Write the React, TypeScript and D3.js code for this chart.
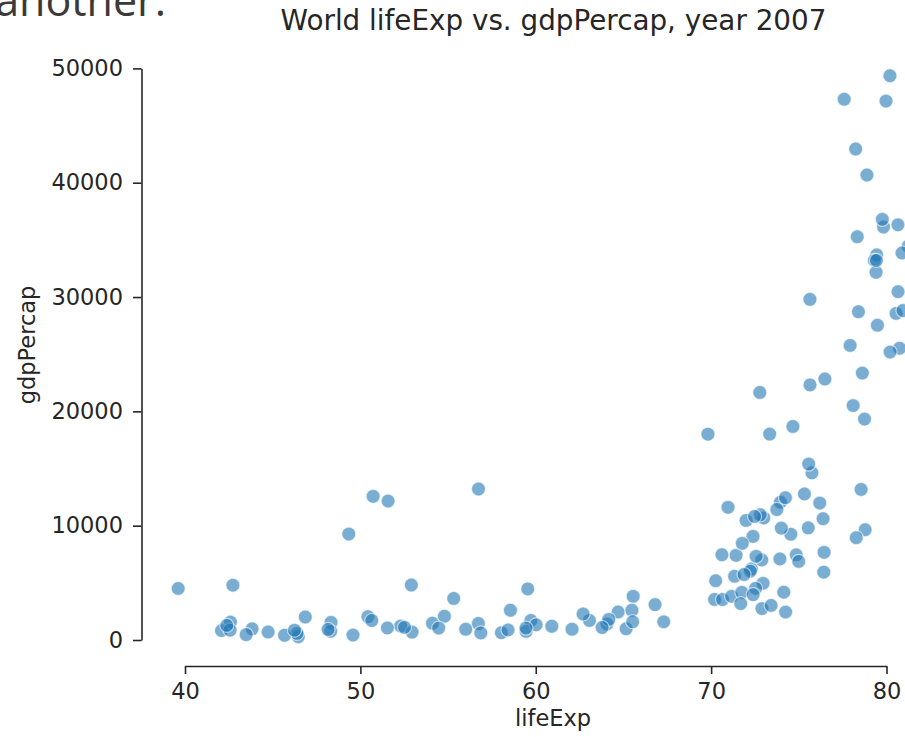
import React, { useRef, useEffect } from 'react';
import * as d3 from 'd3';

// Gapminder 2007, one entry per country (alphabetical, as in the source table)
const countries = [
  'Afghanistan', 'Albania', 'Algeria', 'Angola', 'Argentina', 'Australia', 'Austria', 'Bahrain',
  'Bangladesh', 'Belgium', 'Benin', 'Bolivia', 'Bosnia and Herzegovina', 'Botswana', 'Brazil',
  'Bulgaria', 'Burkina Faso', 'Burundi', 'Cambodia', 'Cameroon', 'Canada', 'Central African Republic',
  'Chad', 'Chile', 'China', 'Colombia', 'Comoros', 'Congo, Dem. Rep.', 'Congo, Rep.', 'Costa Rica',
  "Cote d'Ivoire", 'Croatia', 'Cuba', 'Czech Republic', 'Denmark', 'Djibouti', 'Dominican Republic',
  'Ecuador', 'Egypt', 'El Salvador', 'Equatorial Guinea', 'Eritrea', 'Ethiopia', 'Finland', 'France',
  'Gabon', 'Gambia', 'Germany', 'Ghana', 'Greece', 'Guatemala', 'Guinea', 'Guinea-Bissau', 'Haiti',
  'Honduras', 'Hong Kong, China', 'Hungary', 'Iceland', 'India', 'Indonesia', 'Iran', 'Iraq', 'Ireland',
  'Israel', 'Italy', 'Jamaica', 'Japan', 'Jordan', 'Kenya', 'Korea, Dem. Rep.', 'Korea, Rep.', 'Kuwait',
  'Lebanon', 'Lesotho', 'Liberia', 'Libya', 'Madagascar', 'Malawi', 'Malaysia', 'Mali', 'Mauritania',
  'Mauritius', 'Mexico', 'Mongolia', 'Montenegro', 'Morocco', 'Mozambique', 'Myanmar', 'Namibia',
  'Nepal', 'Netherlands', 'New Zealand', 'Nicaragua', 'Niger', 'Nigeria', 'Norway', 'Oman', 'Pakistan',
  'Panama', 'Paraguay', 'Peru', 'Philippines', 'Poland', 'Portugal', 'Puerto Rico', 'Reunion', 'Romania',
  'Rwanda', 'Sao Tome and Principe', 'Saudi Arabia', 'Senegal', 'Serbia', 'Sierra Leone', 'Singapore',
  'Slovak Republic', 'Slovenia', 'Somalia', 'South Africa', 'Spain', 'Sri Lanka', 'Sudan', 'Swaziland',
  'Sweden', 'Switzerland', 'Syria', 'Taiwan', 'Tanzania', 'Thailand', 'Togo', 'Trinidad and Tobago',
  'Tunisia', 'Turkey', 'Uganda', 'United Kingdom', 'United States', 'Uruguay', 'Venezuela', 'Vietnam',
  'West Bank and Gaza', 'Yemen, Rep.', 'Zambia', 'Zimbabwe'
];

const lifeExp = [
  43.828, 76.423, 72.301, 42.731, 75.32, 81.235, 79.829, 75.635, 64.062, 79.441, 56.728, 65.554,
  74.852, 50.728, 72.39, 73.005, 52.295, 49.58, 59.723, 50.43, 80.653, 44.741, 50.651, 78.553,
  72.961, 72.889, 65.152, 46.462, 55.322, 78.782, 48.328, 75.748, 78.273, 76.486, 78.332, 54.791,
  72.235, 74.994, 71.338, 71.878, 51.579, 58.04, 52.947, 79.313, 80.657, 56.735, 59.448, 79.406,
  60.022, 79.483, 70.259, 56.007, 46.388, 60.916, 70.198, 82.208, 73.338, 81.757, 64.698, 70.65,
  70.964, 59.545, 78.885, 80.745, 80.546, 72.567, 82.603, 72.535, 54.11, 67.297, 78.623, 77.588,
  71.993, 42.592, 45.678, 73.952, 59.443, 48.303, 74.241, 54.467, 64.164, 72.801, 76.195, 66.803,
  74.543, 71.164, 42.082, 62.069, 52.906, 63.785, 79.762, 80.204, 72.899, 56.867, 46.859, 80.196,
  75.64, 65.483, 75.537, 71.752, 71.421, 71.688, 75.563, 78.098, 78.746, 76.442, 72.476, 46.242,
  65.528, 72.777, 63.062, 74.002, 42.568, 79.972, 74.663, 77.926, 48.159, 49.339, 80.941, 72.396,
  58.556, 39.613, 80.884, 81.701, 74.143, 78.4, 52.517, 70.616, 58.42, 69.819, 73.923, 71.777,
  51.542, 79.425, 78.242, 76.384, 73.747, 74.249, 73.422, 62.698, 42.384, 43.487
];

const gdpPercap = [
  974.58, 5937.03, 6223.37, 4797.23, 12779.38, 34435.37, 36126.49, 29796.05, 1391.25, 33692.61,
  1441.28, 3822.14, 7446.3, 12569.85, 9065.8, 10680.79, 1217.03, 430.07, 1713.78, 2042.1, 36319.24,
  706.02, 1704.06, 13171.64, 4959.11, 7006.58, 986.15, 277.55, 3632.56, 9645.06, 1544.75, 14619.22,
  8948.1, 22833.31, 35278.42, 2082.48, 6025.37, 6873.26, 5581.18, 5728.35, 12154.09, 641.37, 690.81,
  33207.08, 30470.02, 13206.48, 752.75, 32170.37, 1327.61, 27538.41, 5186.05, 942.65, 579.23, 1201.64,
  3548.33, 39724.98, 18008.94, 36180.79, 2452.21, 3540.65, 11605.71, 4471.06, 40676.0, 25523.28,
  28569.72, 7320.88, 31656.07, 4519.46, 1463.25, 1593.07, 23348.14, 47306.99, 10461.06, 1569.33,
  414.51, 12057.5, 1044.77, 759.35, 12451.66, 1042.58, 1803.15, 10956.99, 11977.57, 3095.77, 9253.9,
  3820.18, 823.69, 944.0, 4811.06, 1091.36, 36797.93, 25185.01, 2749.32, 619.68, 2013.98, 49357.19,
  22316.19, 2605.95, 9809.19, 4172.84, 7408.91, 3190.48, 15389.92, 20509.65, 19328.71, 7670.12,
  10808.48, 863.09, 1598.44, 21654.83, 1712.47, 9786.53, 862.54, 47143.18, 18678.31, 25768.26,
  926.14, 9269.66, 28821.06, 3970.1, 2602.39, 4513.48, 33859.75, 37506.42, 4184.55, 28718.28,
  1107.48, 7458.4, 882.97, 18008.51, 7092.92, 8458.28, 1056.38, 33203.26, 42951.65, 10611.46,
  11415.81, 2441.58, 3025.35, 2280.77, 1271.21, 469.71
];

const xTicks = [40, 50, 60, 70, 80];
const yTicks = [0, 10000, 20000, 30000, 40000, 50000];

const WIDTH = 905;
const HEIGHT = 737;
const FONT = '"DejaVu Sans", sans-serif';
const INK = '#262626';

const App: React.FC = () => {
  const svgRef = useRef<SVGSVGElement>(null);

  useEffect(() => {
    if (!svgRef.current) return;
    const svg = d3.select(svgRef.current);
    svg.selectAll('*').remove();

    // pixel positions of the (trimmed) spines
    const xScale = d3.scaleLinear().domain([40, 80]).range([185, 886.5]);
    const yScale = d3.scaleLinear().domain([0, 50000]).range([640, 68.4]);
    const xAxisY = 666;
    const yAxisX = 141.5;

    // leftover line of text from the page above the figure
    svg.append('text')
      .attr('x', 166)
      .attr('y', 16)
      .attr('text-anchor', 'end')
      .style('font-family', '"Open Sans", sans-serif')
      .style('font-size', '43px')
      .style('fill', '#3a3a3a')
      .text('another.');

    // points
    svg.append('g')
      .selectAll('circle')
      .data(countries)
      .join('circle')
      .attr('cx', (_, i) => xScale(lifeExp[i]))
      .attr('cy', (_, i) => yScale(gdpPercap[i]))
      .attr('r', 7)
      .attr('fill', '#1f77b4')
      .attr('fill-opacity', 0.6)
      .attr('stroke', '#ffffff')
      .attr('stroke-opacity', 0.6)
      .attr('stroke-width', 1.2);

    // x axis
    const gx = svg.append('g')
      .attr('transform', `translate(0, ${xAxisY})`)
      .call(d3.axisBottom(xScale).tickValues(xTicks).tickSize(8).tickSizeOuter(0).tickPadding(9.5));

    // y axis
    const gy = svg.append('g')
      .attr('transform', `translate(${yAxisX}, 0)`)
      .call(d3.axisLeft(yScale).tickValues(yTicks).tickFormat(d3.format('d')).tickSize(8.5).tickSizeOuter(0).tickPadding(10));

    [gx, gy].forEach(g => {
      g.select('.domain').attr('stroke', INK).attr('stroke-width', 1.6);
      g.selectAll('.tick line').attr('stroke', INK).attr('stroke-width', 1.6);
      g.selectAll('.tick text')
        .attr('fill', INK)
        .style('font-family', FONT)
        .style('font-size', '22.5px');
    });

    // axis labels
    svg.append('text')
      .attr('x', 553)
      .attr('y', 726)
      .attr('text-anchor', 'middle')
      .style('font-family', FONT)
      .style('font-size', '22.5px')
      .style('fill', INK)
      .text('lifeExp');

    svg.append('text')
      .attr('transform', `translate(35, 345) rotate(-90)`)
      .attr('text-anchor', 'middle')
      .style('font-family', FONT)
      .style('font-size', '22.5px')
      .style('fill', INK)
      .text('gdpPercap');

    // title
    svg.append('text')
      .attr('x', 553.5)
      .attr('y', 30)
      .attr('text-anchor', 'middle')
      .style('font-family', FONT)
      .style('font-size', '27.8px')
      .style('fill', INK)
      .text('World lifeExp vs. gdpPercap, year 2007');
  }, []);

  return (
    <div style={{ position: 'absolute', left: 0, top: 0, background: '#fff' }}>
      <svg ref={svgRef} width={WIDTH} height={HEIGHT} style={{ display: 'block' }} />
    </div>
  );
};

export default App;
